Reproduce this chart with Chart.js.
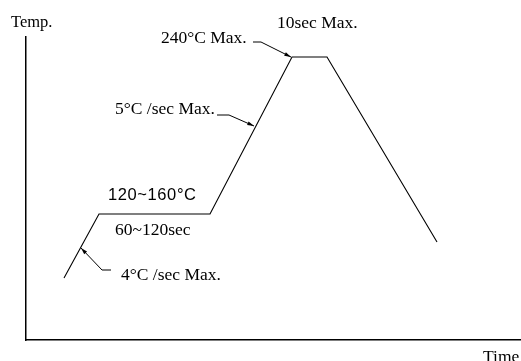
<!DOCTYPE html>
<html>
<head>
<meta charset="utf-8">
<script src="https://cdn.jsdelivr.net/npm/chart.js@4/dist/chart.umd.min.js"></script>
<style>
  html, body { margin: 0; padding: 0; background: #fff; }
  #wrap { width: 521px; height: 361px; }
</style>
</head>
<body>
<div id="wrap"><canvas id="reflow" width="521" height="361"></canvas></div>
<script>
// Reflow soldering profile (schematic, axis units without ticks)
const profileTime = [38, 73, 184, 266, 301, 411];
const profileTemp = [62, 126, 126, 283, 283, 98];

// Annotation texts
const axisTitles = ['Temp.', 'Time'];
const noteTexts = ['10sec Max.', '240°C Max.', '5°C /sec Max.', '120~160°C', '60~120sec', '4°C /sec Max.'];

const TITLE = "16.5px 'Liberation Serif', 'Times New Roman', serif";
const SERIF = "17.5px 'Liberation Serif', 'Times New Roman', serif";
const CAD = "16.5px 'Liberation Sans', Arial, sans-serif";

// where each text sits (left, baseline) in axis units
const labels = [
  { text: axisTitles[0], x: -15, y: 313, font: TITLE },
  { text: axisTitles[1], x: 457, y: -22, font: SERIF },
  { text: noteTexts[0], x: 251, y: 312, font: SERIF },
  { text: noteTexts[1], x: 135, y: 297, font: SERIF },
  { text: noteTexts[2], x: 89, y: 226, font: SERIF },
  { text: noteTexts[3], x: 82, y: 140, font: CAD, spacing: '0.6px' },
  { text: noteTexts[4], x: 89, y: 105, font: SERIF },
  { text: noteTexts[5], x: 95, y: 60, font: SERIF }
];

// leader lines, last point is the arrow tip on the curve
const leaders = [
  [[227, 298], [235, 298], [265, 283]],
  [[191, 225], [203, 225], [228, 214]],
  [[85, 70], [76, 70], [55, 92]]
];

const notesPlugin = {
  id: 'notes',
  afterDatasetsDraw(chart) {
    const { ctx, scales } = chart;
    const px = v => scales.x.getPixelForValue(v);
    const py = v => scales.y.getPixelForValue(v);
    ctx.save();
    ctx.fillStyle = '#000';
    ctx.textBaseline = 'alphabetic';
    ctx.textAlign = 'left';
    labels.forEach(l => {
      ctx.font = l.font;
      ctx.letterSpacing = l.spacing || '0px';
      ctx.fillText(l.text, px(l.x), py(l.y));
    });
    ctx.letterSpacing = '0px';
    ctx.strokeStyle = '#000';
    ctx.lineWidth = 1;
    leaders.forEach(pts => {
      ctx.beginPath();
      pts.forEach((p, i) => {
        const X = px(p[0]), Y = py(p[1]);
        if (i === 0) ctx.moveTo(X, Y); else ctx.lineTo(X, Y);
      });
      ctx.stroke();
      // arrow head
      const a = pts[pts.length - 2], b = pts[pts.length - 1];
      const ax = px(a[0]), ay = py(a[1]), bx = px(b[0]), by = py(b[1]);
      const ang = Math.atan2(by - ay, bx - ax);
      const len = 7, w = 0.28;
      ctx.beginPath();
      ctx.moveTo(bx, by);
      ctx.lineTo(bx - len * Math.cos(ang - w), by - len * Math.sin(ang - w));
      ctx.lineTo(bx - len * Math.cos(ang + w), by - len * Math.sin(ang + w));
      ctx.closePath();
      ctx.fill();
    });
    ctx.restore();
  }
};

new Chart(document.getElementById('reflow'), {
  type: 'scatter',
  data: {
    datasets: [{
      data: profileTime.map((t, i) => ({ x: t, y: profileTemp[i] })),
      showLine: true,
      borderColor: '#000',
      borderWidth: 1.1,
      pointRadius: 0,
      tension: 0,
      fill: false
    }]
  },
  options: {
    responsive: false,
    animation: false,
    layout: { padding: { left: 26, top: 37, right: 0, bottom: 21 } },
    plugins: { legend: { display: false }, tooltip: { enabled: false } },
    scales: {
      x: {
        type: 'linear', min: 0, max: 495,
        grid: { display: false },
        ticks: { display: false },
        border: { display: true, color: '#000', width: 1.5 },
        afterFit(scale) { scale.height = 0; }
      },
      y: {
        type: 'linear', min: 0, max: 303,
        grid: { display: false },
        ticks: { display: false },
        border: { display: true, color: '#000', width: 1.5 },
        afterFit(scale) { scale.width = 0; }
      }
    }
  },
  plugins: [notesPlugin]
});
</script>
</body>
</html>
